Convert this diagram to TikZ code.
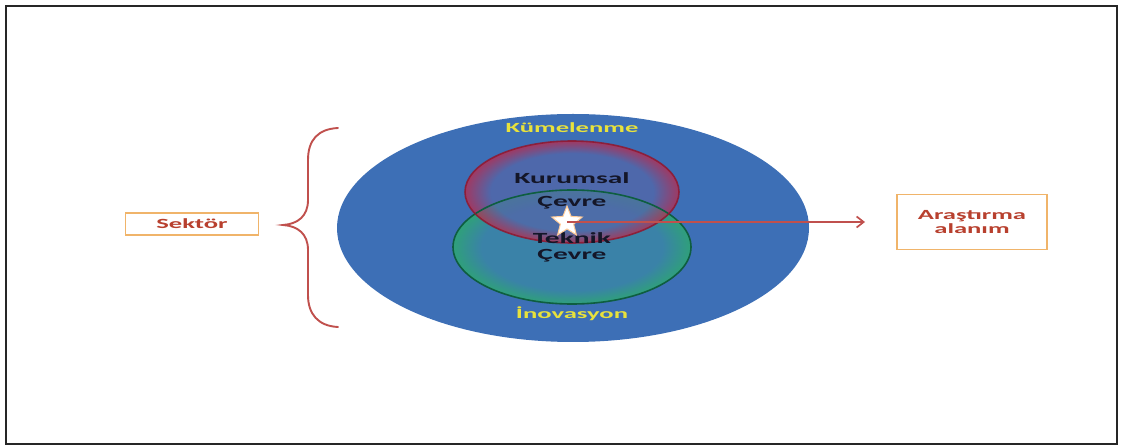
\documentclass[tikz,border=0pt]{standalone}
\usepackage{fontspec}
\usetikzlibrary{shapes.geometric,arrows.meta}
\newfontfamily\wf[FakeStretch=1.9]{Carlito}
\definecolor{bigblue}{HTML}{3D6FB6}
\definecolor{rimred}{HTML}{C02848}
\definecolor{edgered}{HTML}{8E1830}
\definecolor{rimgreen}{HTML}{2FA07A}
\definecolor{edgegreen}{HTML}{0E5E40}
\definecolor{midblue}{HTML}{5466A8}
\definecolor{midteal}{HTML}{3A82A8}
\definecolor{labelyellow}{HTML}{E8E23C}
\definecolor{labelred}{HTML}{B8402E}
\definecolor{boxorange}{HTML}{F0B46A}
\definecolor{bracered}{HTML}{C0504D}
\definecolor{textdark}{HTML}{141628}
\pgfdeclareradialshading{redglow}{\pgfpoint{0bp}{0bp}}{color(0bp)=(midblue); color(19bp)=(midblue); color(25bp)=(rimred); color(50bp)=(rimred)}
\pgfdeclareradialshading{greenglow}{\pgfpoint{0bp}{0bp}}{color(0bp)=(midteal); color(19bp)=(midteal); color(25bp)=(rimgreen); color(50bp)=(rimgreen)}
\tikzset{
  label box/.style={draw=boxorange, line width=1.3pt, fill=white, inner sep=0pt, text=labelred, font=\wf\bfseries\fontsize{14}{16}\selectfont, align=center},
  ring text/.style={text=labelyellow, font=\wf\bfseries\fontsize{14}{16}\selectfont},
  core text/.style={text=textdark, font=\wf\bfseries\fontsize{15.5}{18}\selectfont},
  brace line/.style={draw=bracered, line width=1.9pt, line cap=round},
  link/.style={draw=bracered, line width=1.7pt, -{Straight Barb[length=7pt,width=11pt,line width=1.7pt]}}
}
\begin{document}
\begin{tikzpicture}[x=1pt,y=-1pt]
\useasboundingbox (0,0) rectangle (1122,446);
% outer frame
\draw[draw=black!85, line width=2.4pt] (6,6) rectangle (1117,444);

% sector ellipse
\node[ellipse, fill=bigblue, minimum width=472pt, minimum height=228pt, inner sep=0pt] (sector) at (573,228) {};

% technical environment (green) and institutional environment (red)
\shade[shading=greenglow] (572,247) ellipse [x radius=119, y radius=57];
\shade[shading=redglow, fill opacity=0.75] (572,192) ellipse [x radius=107, y radius=51];
\draw[edgegreen, line width=1.6pt] (572,247) ellipse [x radius=119, y radius=57];
\draw[edgered, line width=1.6pt, opacity=0.85] (572,192) ellipse [x radius=107, y radius=51];
\node[ellipse, minimum width=238pt, minimum height=114pt, inner sep=0pt] (tech) at (572,247) {};
\node[ellipse, minimum width=214pt, minimum height=102pt, inner sep=0pt] (inst) at (572,192) {};

% texts inside the ellipse
\node[ring text] (kum) at (572,128) {Kümelenme};
\node[ring text] (ino) at (572,314) {İnovasyon};
\node[core text] (kur) at (572,178) {Kurumsal};
\node[core text] (cev1) at (572,203) {Çevre};
\node[core text] (tek) at (572,238) {Teknik};
\node[core text] (cev2) at (572,256) {Çevre};

% research area marker
\node[star, star points=5, star point ratio=2.3, minimum size=32pt, inner sep=0pt, fill=white, draw=orange!40, line width=1pt] (mark) at (567,222) {};

% labels
\node[label box, minimum width=133pt, minimum height=22pt] (sektor) at (192,224) {Sektör};
\node[label box, minimum width=150pt, minimum height=55pt] (arastirma) at (972,222) {Araştırma\\[-2pt]alanım};

\coordinate (arrowend) at (865,222);
\path[link] (mark.center) -- (arrowend);

% curly brace spanning the sector
\coordinate (btop) at (338,128);
\coordinate (btip) at (283,225);
\coordinate (bbot) at (338,327);
\path[brace line] (btop) .. controls (318,129) and (308,140) .. (308,160) -- (308,200)
  .. controls (308,216) and (298,224) .. (btip)
  .. controls (298,226) and (308,234) .. (308,250) -- (308,295)
  .. controls (308,314) and (318,326) .. (bbot);
\end{tikzpicture}
\end{document}
